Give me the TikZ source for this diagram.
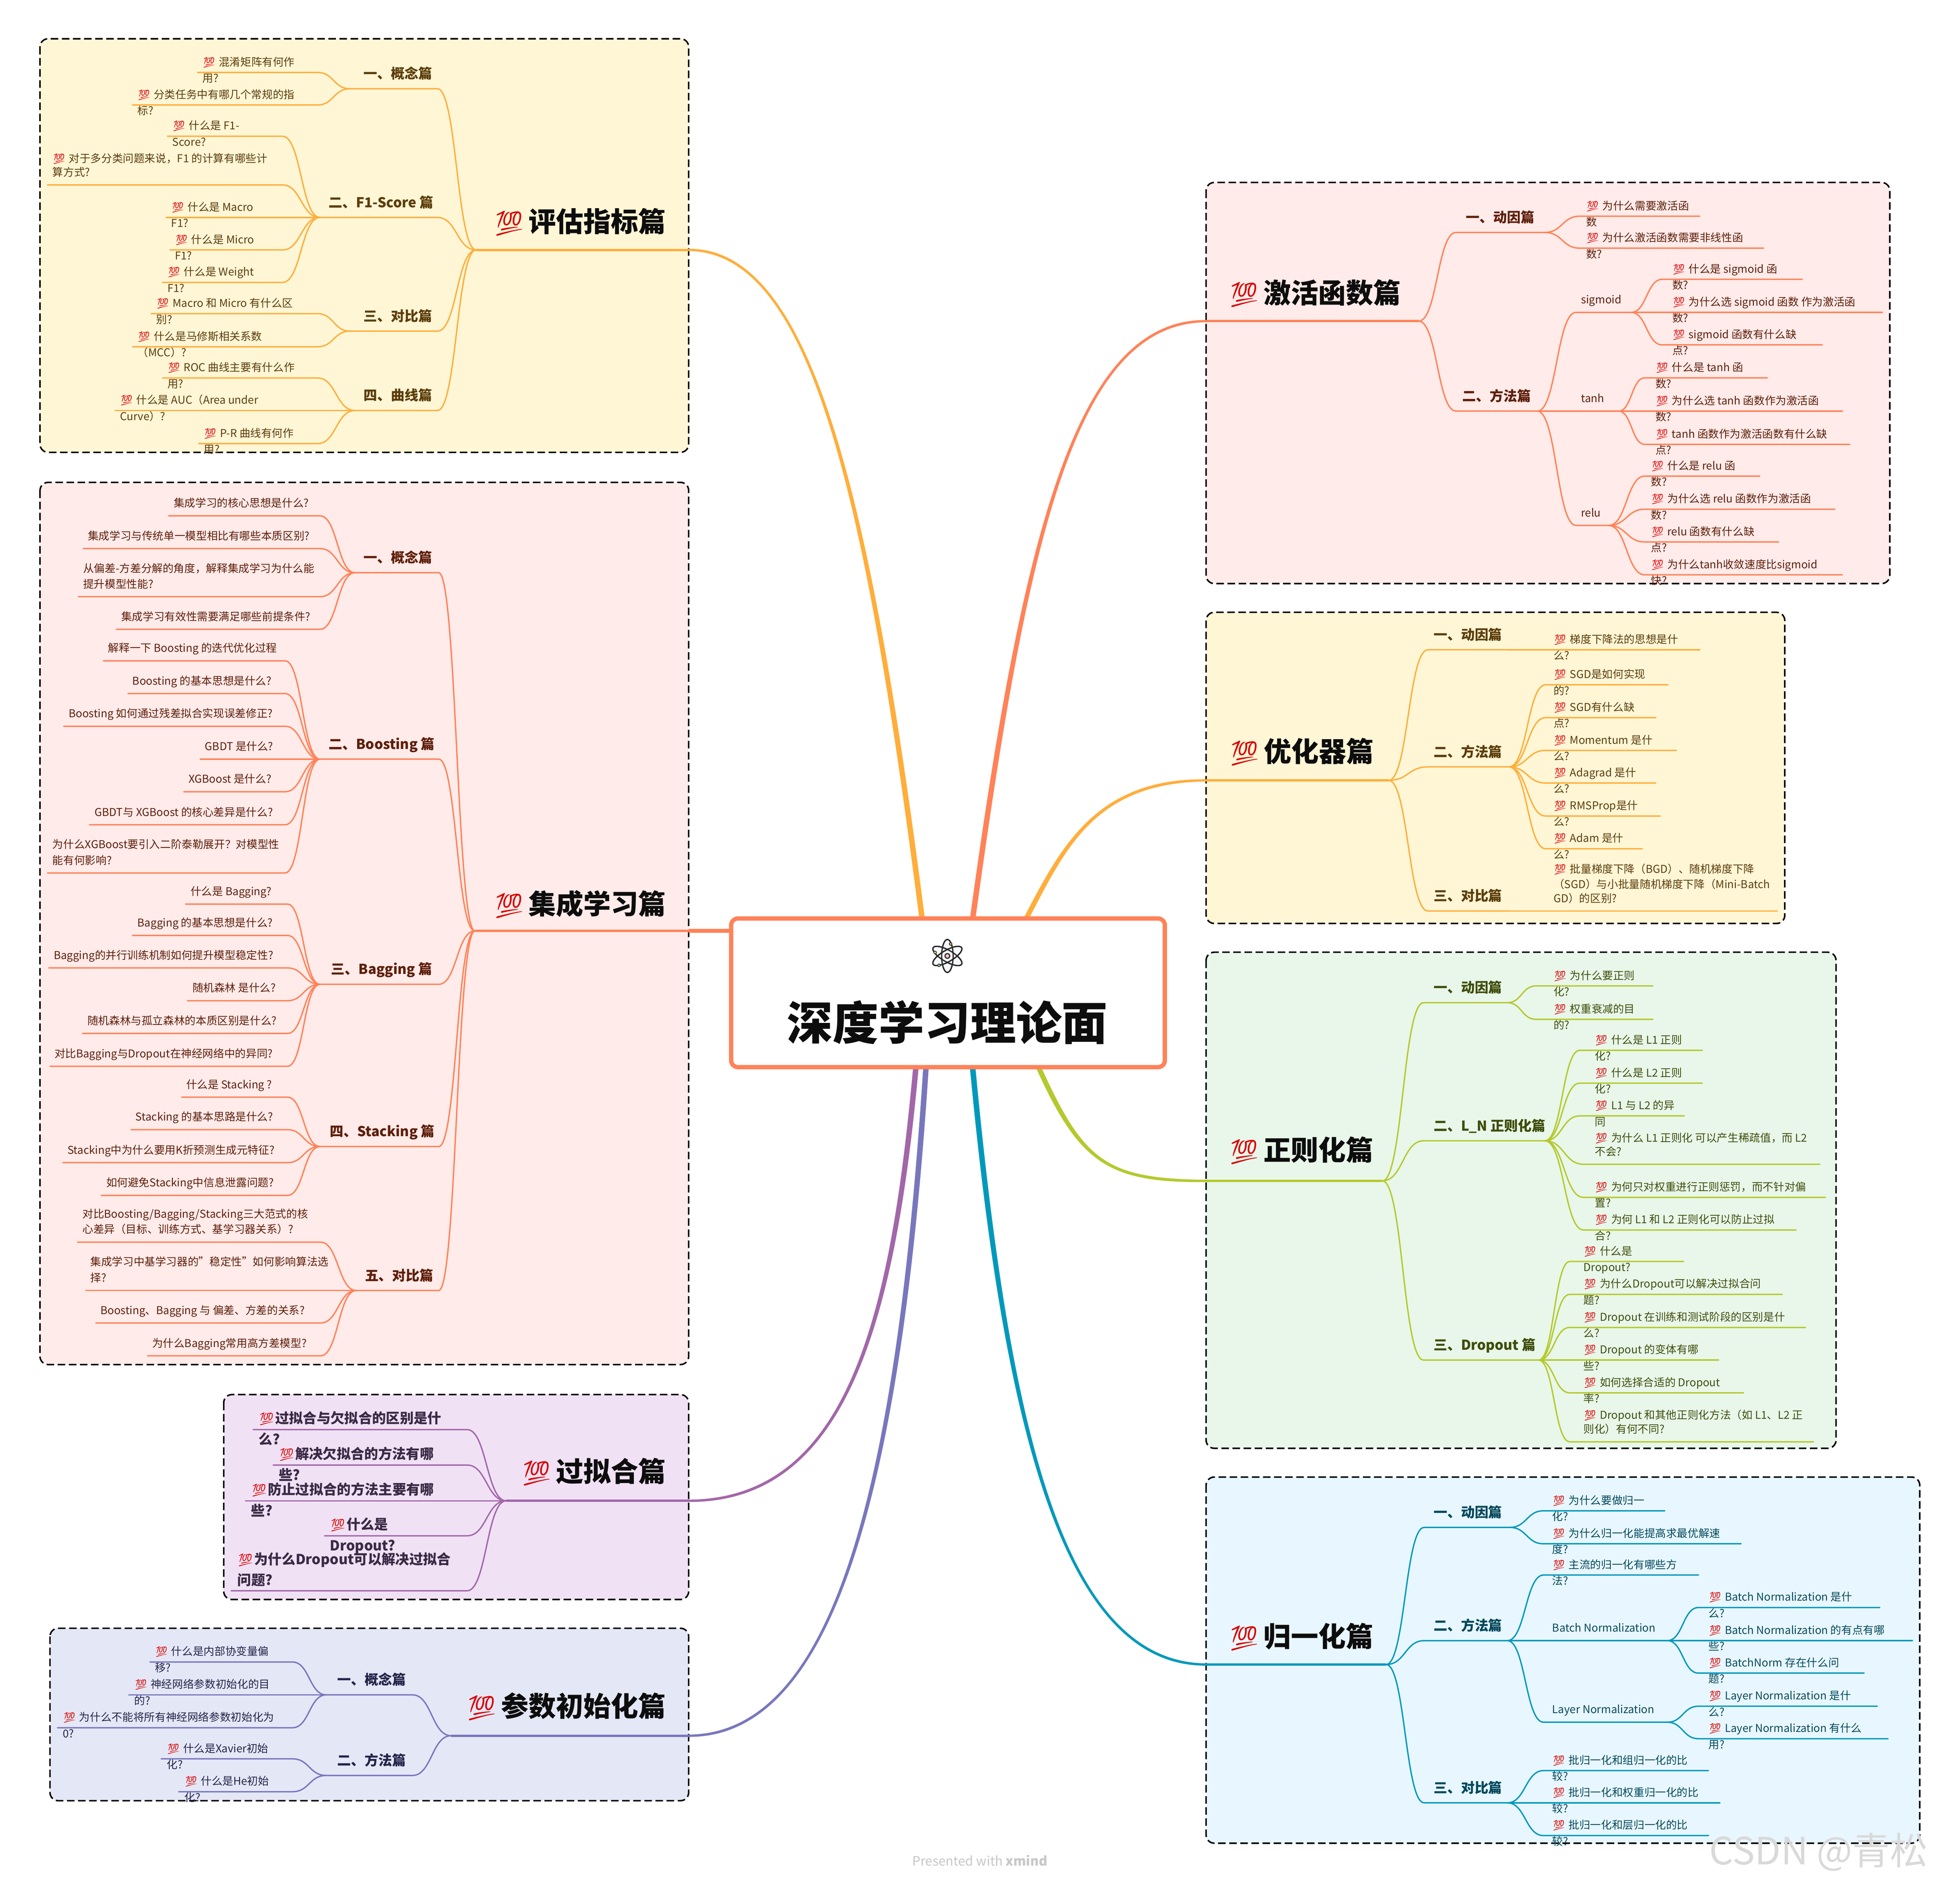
\documentclass[tikz,border=0pt]{standalone}
\usepackage{fontspec}
\usetikzlibrary{calc}
\setmainfont{Noto Sans CJK SC}
\newfontfamily\emj{Noto Emoji}
\newfontfamily\blk{Noto Sans CJK SC Black}
\definecolor{emred}{HTML}{D90000}
\colorlet{br}{black}
\colorlet{tc}{black}
\newcommand\EM[2]{\makebox[#2][l]{\fontsize{#1}{#1}\selectfont\emj\mdseries\textcolor{emred}{💯}}}
\newcommand\E{\EM{7.6pt}{11.9pt}}
\newcommand\uconv{0.9119}
\newcommand\AO{-7}
\newcommand\AW{-5.2}
\newcommand\BW{7.8}
\newcommand\jn{west}\newcommand\nr{east}\newcommand\fr{west}
\newcommand\SideL{\renewcommand\jn{west}\renewcommand\nr{east}\renewcommand\fr{west}}
\newcommand\SideR{\renewcommand\jn{east}\renewcommand\nr{west}\renewcommand\fr{east}}
% name parent near far y textx above below
\newcommand\Lf[8]{%
  \pgfmathsetmacro\cxx{(#3+#4)/2}\pgfmathsetmacro\wid{abs(#4-#3)*\uconv}%
  \node[lnode,minimum width=\wid pt] (#1) at (\cxx,#5) {};
  \if\relax\detokenize{#8}\relax
    \node[ltext,anchor=base west] (#1-a) at (#6,#5+\AO) {#7};
  \else
    \node[ltext,anchor=base west] (#1-a) at (#6,#5+\AW) {#7};
    \node[ltext,anchor=base west] (#1-b) at (#6,#5+\BW) {#8};
  \fi
  \draw[branch] let \p1=(#2.\jn),\p2=(#1.\nr),\n1={0.5*\x1+0.5*\x2} in
     (\p1) .. controls (\n1,\y1) and (\n1,\y2) .. (\p2) -- (#1.\fr);
}
% extra text line: name x baseline text
\newcommand\Tl[4]{\node[ltext,anchor=base west] (#1) at (#2,#3) {#4};}
% group: name parent near far y textx text
\newcommand\Gp[7]{%
  \pgfmathsetmacro\cxx{(#3+#4)/2}\pgfmathsetmacro\wid{abs(#4-#3)*\uconv}%
  \node[lnode,minimum width=\wid pt] (#1) at (\cxx,#5) {};
  \node[gtext,anchor=base west] (#1-a) at (#6,#5-8) {#7};
  \draw[branch] let \p1=(#2.\jn),\p2=(#1.\nr),\n1={0.5*\x1+0.5*\x2} in
     (\p1) .. controls (\n1,\y1) and (\n1,\y2) .. (\p2) -- (#1.\fr);
}
% section: name edge junction y emojix textcentery text
\newcommand\Sec[7]{%
  \pgfmathsetmacro\cxx{(#2+#3)/2}\pgfmathsetmacro\wid{abs(#2-#3)*\uconv}%
  \node[lnode,minimum width=\wid pt] (#1) at (\cxx,#4) {};
  \draw[br,line width=1.75pt] (#1.west) -- (#1.east);
  \node[stext,anchor=base west] (#1-a) at (#5,#6+7.6) {\EM{18pt}{25.5pt}#7};
}
% tapered main connector: start c1 c2 end startw endw sign
\newcommand\Main[7]{%
  \fill[br] ($(#1)+(-#5,0)$) .. controls ($(#2)+(-#5,0)$) and ($(#3)+(0,2*#7*#6)$) .. ($(#4)+(0,#7*#6)$)
     -- ($(#4)+(0,-1*#7*#6)$) .. controls ($(#3)+(0,-2*#7*#6)$) and ($(#2)+(#5,0)$) .. ($(#1)+(#5,0)$) -- cycle;
}
\tikzset{
  lnode/.style={inner sep=0pt,outer sep=0pt,minimum height=0pt},
  ltext/.style={inner sep=0pt,outer sep=0pt,font=\fontsize{7.9}{10}\selectfont,text=tc},
  gtext/.style={inner sep=0pt,outer sep=0pt,font=\fontsize{10}{12}\selectfont\bfseries,text=tc},
  stext/.style={inner sep=0pt,outer sep=0pt,font=\fontsize{20}{24}\selectfont\blk,text=black!95},
  branch/.style={draw=br,line width=1pt,line cap=round},
  panel/.style={draw=black,line width=1.1pt,dash pattern=on 5.5pt off 2.6pt,rounded corners=6pt},
}
\begin{document}
\begin{tikzpicture}[x=0.03205cm,y=-0.03205cm]
\useasboundingbox (0,0) rectangle (1568.2,1507.6);
\fill[white] (0,0) rectangle (1568.2,1507.6);
\coordinate (r1) at (738,737);
\coordinate (r2) at (778,737);
\coordinate (r3) at (820,737);
\coordinate (r4) at (587,745);
\coordinate (r5) at (733,852);
\coordinate (r6) at (741,852);
\coordinate (r7) at (778,852);
\coordinate (r8) at (830,852);

% ===== evaluation
\begin{scope}
\definecolor{br}{HTML}{FFAE3B}\definecolor{tc}{HTML}{5C3D0A}
\SideL
\filldraw[panel,fill={rgb,255:red,255;green,246;blue,214}] (32,31) rectangle (551,362);
\Sec{s1}{551}{381}{200}{395}{178}{评估指标篇}
\Gp{g11}{s1}{350}{280}{71}{291}{一、概念篇}
\Lf{l111}{g11}{254}{158}{58}{162}{\E 混淆矩阵有何作}{用?}
\Lf{l112}{g11}{254}{106}{84}{110}{\E 分类任务中有哪几个常规的指}{标?}
\Gp{g12}{s1}{350}{256}{174}{263}{二、F1-Score 篇}
\Lf{l121}{g12}{226}{134}{109}{138}{\E 什么是 F1-}{Score?}
\Lf{l122}{g12}{226}{38}{148}{42}{算方式?}{}
\Tl{l122-c}{42}{130}{\E 对于多分类问题来说，F1 的计算有哪些计}
\Lf{l123}{g12}{256}{133}{174}{137}{\E 什么是 Macro}{F1?}
\Lf{l124}{g12}{226}{136}{200}{140}{\E 什么是 Micro}{F1?}
\Lf{l125}{g12}{226}{130}{226}{134}{\E 什么是 Weight}{F1?}
\Gp{g13}{s1}{350}{280}{265}{291}{三、对比篇}
\Lf{l131}{g13}{254}{121}{251}{125}{\E Macro 和 Micro 有什么区}{别?}
\Lf{l132}{g13}{254}{106}{277.5}{110}{\E 什么是马修斯相关系数}{（MCC）?}
\Gp{g14}{s1}{350}{284}{328.5}{291}{四、曲线篇}
\Lf{l141}{g14}{254}{130}{302.5}{134}{\E ROC 曲线主要有什么作}{用?}
\Lf{l142}{g14}{284}{92}{328.5}{96}{\E 什么是 AUC（Area under}{Curve）?}
\Lf{l143}{g14}{254}{159}{355}{163}{\E P-R 曲线有何作}{用?}
\Main{r1}{695,400}{650,200}{s1.east}{2.2}{0.9}{1}
\end{scope}

% ===== ensemble
\begin{scope}
\definecolor{br}{HTML}{FF8258}\definecolor{tc}{HTML}{5E1E0A}
\SideL
\filldraw[panel,fill={rgb,255:red,255;green,235;blue,233}] (32,386) rectangle (551,1092);
\Sec{s2}{551}{380}{745}{395}{724}{集成学习篇}
\Gp{g21}{s2}{351}{284}{458.3}{291}{一、概念篇}
\Lf{l211}{g21}{256}{135}{412.8}{139}{集成学习的核心思想是什么?}{}
\Lf{l212}{g21}{256}{66.6}{439}{70.3}{集成学习与传统单一模型相比有哪些本质区别?}{}
\Lf{l213}{g21}{256}{62.8}{477.5}{66.6}{提升模型性能?}{}
\Tl{l213-c}{66.6}{458}{从偏差-方差分解的角度，解释集成学习为什么能}
\Lf{l214}{g21}{256}{93}{503.6}{97}{集成学习有效性需要满足哪些前提条件?}{}
\Gp{g22}{s2}{351}{256}{607.5}{263}{二、Boosting 篇}
\Lf{l221}{g22}{228}{82.8}{528.8}{86.5}{解释一下 Boosting 的迭代优化过程}{}
\Lf{l222}{g22}{228}{102.4}{555}{106}{Boosting 的基本思想是什么?}{}
\Lf{l223}{g22}{228}{51}{581.2}{55}{Boosting 如何通过残差拟合实现误差修正?}{}
\Lf{l224}{g22}{256}{160.3}{607.5}{164}{GBDT 是什么?}{}
\Lf{l225}{g22}{228}{147}{633.6}{151}{XGBoost 是什么?}{}
\Lf{l226}{g22}{228}{71.6}{660}{75.7}{GBDT与 XGBoost 的核心差异是什么?}{}
\Lf{l227}{g22}{228}{38}{698.6}{42}{能有何影响?}{}
\Tl{l227-c}{42}{679}{为什么XGBoost要引入二阶泰勒展开？对模型性}
\Gp{g23}{s2}{351}{256}{787.7}{265}{三、Bagging 篇}
\Lf{l231}{g23}{230}{148.4}{723.5}{152.5}{什么是 Bagging?}{}
\Lf{l232}{g23}{230}{106}{748.6}{110}{Bagging 的基本思想是什么?}{}
\Lf{l233}{g23}{230}{39}{774.6}{43}{Bagging的并行训练机制如何提升模型稳定性?}{}
\Lf{l234}{g23}{230}{150}{800.8}{154}{随机森林 是什么?}{}
\Lf{l235}{g23}{230}{66}{827}{70}{随机森林与孤立森林的本质区别是什么?}{}
\Lf{l236}{g23}{230}{40}{853.3}{43.6}{对比Bagging与Dropout在神经网络中的异同?}{}
\Gp{g24}{s2}{351}{256}{917.5}{264}{四、Stacking 篇}
\Lf{l241}{g24}{230}{145.4}{878}{149}{什么是 Stacking ?}{}
\Lf{l242}{g24}{230}{104.8}{904}{108.5}{Stacking 的基本思路是什么?}{}
\Lf{l243}{g24}{230}{50.3}{930.4}{54}{Stacking中为什么要用K折预测生成元特征?}{}
\Lf{l244}{g24}{230}{81}{956.6}{85}{如何避免Stacking中信息泄露问题?}{}
\Gp{g25}{s2}{351}{285}{1032.7}{292}{五、对比篇}
\Lf{l251}{g25}{256.4}{62}{994}{66}{心差异（目标、训练方式、基学习器关系）?}{}
\Tl{l251-c}{66}{974.5}{对比Boosting/Bagging/Stacking三大范式的核}
\Lf{l252}{g25}{285}{68.6}{1032.7}{72.3}{择?}{}
\Tl{l252-c}{72.3}{1013}{集成学习中基学习器的"稳定性"如何影响算法选}
\Lf{l253}{g25}{256.4}{76.7}{1058.7}{80.4}{Boosting、Bagging 与 偏差、方差的关系?}{}
\Lf{l254}{g25}{256.4}{118}{1085}{121.7}{为什么Bagging常用高方差模型?}{}
\draw[br,line width=2.8pt] (r4) -- (s2.east);
\end{scope}

% ===== overfitting
\begin{scope}
\definecolor{br}{HTML}{A267A9}\definecolor{tc}{HTML}{3A2A45}
\SideL
\renewcommand\E{\EM{9.2pt}{12.1pt}}
\renewcommand\AO{-4.5}\renewcommand\AW{-5}\renewcommand\BW{12}
\tikzset{ltext/.style={inner sep=0pt,outer sep=0pt,font=\fontsize{10.1}{13}\selectfont\bfseries,text=tc}}
\filldraw[panel,fill={rgb,255:red,240;green,225;blue,245}] (179,1116) rectangle (551,1280);
\Sec{s3}{551}{405}{1201}{417}{1178}{过拟合篇}
\Lf{l31}{s3}{373.7}{202.6}{1144}{207}{\E 过拟合与欠拟合的区别是什}{么?}
\Lf{l32}{s3}{373.7}{218.6}{1172.4}{223}{\E 解决欠拟合的方法有哪}{些?}
\Lf{l33}{s3}{405}{196.4}{1201}{201}{\E 防止过拟合的方法主要有哪}{些?}
\Lf{l34}{s3}{373.7}{259.7}{1229}{264}{\E 什么是}{Dropout?}
\Lf{l35}{s3}{373.7}{185}{1273}{190}{问题?}{}
\Tl{l35-c}{190}{1252}{\E 为什么Dropout可以解决过拟合}
\Main{r5}{715,1050}{680,1201}{s3.east}{2.2}{0.9}{-1}
\end{scope}

% ===== init
\begin{scope}
\definecolor{br}{HTML}{7877BD}\definecolor{tc}{HTML}{24244A}
\SideL
\filldraw[panel,fill={rgb,255:red,228;green,231;blue,246}] (40,1303) rectangle (551,1441);
\Sec{s4}{551}{361}{1389}{373}{1366}{参数初始化篇}
\Gp{g41}{s4}{330}{261}{1356.3}{270}{一、概念篇}
\Lf{l411}{g41}{234}{120}{1330}{124}{\E 什么是内部协变量偏}{移?}
\Lf{l412}{g41}{261}{103}{1356.3}{107.5}{\E 神经网络参数初始化的目}{的?}
\Lf{l413}{g41}{234}{46}{1382.6}{50.3}{\E 为什么不能将所有神经网络参数初始化为}{0?}
\Gp{g42}{s4}{330}{261}{1420.8}{270}{二、方法篇}
\Lf{l421}{g42}{234}{129}{1407.5}{133.5}{\E 什么是Xavier初始}{化?}
\Lf{l422}{g42}{234}{143}{1433.8}{147.7}{\E 什么是He初始}{化?}
\Main{r6}{720,1180}{670,1389}{s4.east}{2.2}{0.9}{-1}
\end{scope}

% ===== activation
\begin{scope}
\definecolor{br}{HTML}{FF8258}\definecolor{tc}{HTML}{5E1E0A}
\SideR
\filldraw[panel,fill={rgb,255:red,255;green,235;blue,233}] (965,146) rectangle (1512,467);
\Sec{s5}{965}{1135}{257}{983}{235}{激活函数篇}
\Gp{g51}{s5}{1165}{1236}{186}{1173}{一、动因篇}
\Lf{l511}{g51}{1264}{1360}{173}{1269}{\E 为什么需要激活函}{数}
\Lf{l512}{g51}{1264}{1411}{198.6}{1269}{\E 为什么激活函数需要非线性函}{数?}
\Gp{g52}{s5}{1165}{1230}{329}{1170}{二、方法篇}
\Lf{m1}{g52}{1261}{1305}{250}{1265}{sigmoid}{}
\Lf{l521}{m1}{1330}{1442}{223.5}{1338}{\E 什么是 sigmoid 函}{数?}
\Lf{l522}{m1}{1305}{1506}{250}{1338}{\E 为什么选 sigmoid 函数 作为激活函}{数?}
\Lf{l523}{m1}{1330}{1458}{276}{1338}{\E sigmoid 函数有什么缺}{点?}
\Lf{m2}{g52}{1230}{1295}{329}{1265}{tanh}{}
\Lf{l531}{m2}{1316}{1414}{302.4}{1324.6}{\E 什么是 tanh 函}{数?}
\Lf{l532}{m2}{1295}{1474}{329}{1324.6}{\E 为什么选 tanh 函数作为激活函}{数?}
\Lf{l533}{m2}{1316}{1480}{355.6}{1324.6}{\E tanh 函数作为激活函数有什么缺}{点?}
\Lf{m3}{g52}{1261}{1287}{420.5}{1265}{relu}{}
\Lf{l541}{m3}{1316}{1408}{381}{1321}{\E 什么是 relu 函}{数?}
\Lf{l542}{m3}{1316}{1468}{407.5}{1321}{\E 为什么选 relu 函数作为激活函}{数?}
\Lf{l543}{m3}{1316}{1423}{433.7}{1321}{\E relu 函数有什么缺}{点?}
\Lf{l544}{m3}{1316}{1474}{460}{1321}{\E 为什么tanh收敛速度比sigmoid}{快?}
\Main{r2}{820,430}{860,257}{s5.west}{2.2}{0.9}{-1}
\end{scope}

% ===== optimizer
\begin{scope}
\definecolor{br}{HTML}{FFAE3B}\definecolor{tc}{HTML}{5C3D0A}
\SideR
\filldraw[panel,fill={rgb,255:red,255;green,246;blue,214}] (965,490) rectangle (1428,739);
\Sec{s6}{965}{1111}{624.5}{983.5}{602}{优化器篇}
\Gp{g61}{s6}{1142.5}{1207.4}{520}{1147}{一、动因篇}
\Lf{l611}{g61}{1207.4}{1360}{520}{1243}{\E 梯度下降法的思想是什}{么?}
\Gp{g62}{s6}{1142.5}{1207.4}{613.7}{1147}{二、方法篇}
\Lf{l621}{g62}{1236.7}{1334.5}{548}{1243}{\E SGD是如何实现}{的?}
\Lf{l622}{g62}{1236.7}{1325}{574.3}{1243}{\E SGD有什么缺}{点?}
\Lf{l623}{g62}{1236.7}{1341.3}{600.5}{1243}{\E Momentum 是什}{么?}
\Lf{l624}{g62}{1236.7}{1324.7}{626.6}{1243}{\E Adagrad 是什}{么?}
\Lf{l625}{g62}{1236.7}{1328.4}{653}{1243}{\E RMSProp是什}{么?}
\Lf{l626}{g62}{1236.7}{1314}{679.2}{1243}{\E Adam 是什}{么?}
\Gp{g63}{s6}{1142.5}{1207.4}{729}{1147}{三、对比篇}
\Lf{l631}{g63}{1207.4}{1422}{729}{1243}{GD）的区别?}{}
\Tl{l631-c}{1243}{711}{（SGD）与小批量随机梯度下降（Mini-Batch}
\Tl{l631-d}{1243}{698.6}{\E 批量梯度下降（BGD）、随机梯度下降}
\Main{r3}{850,680}{875,624.5}{s6.west}{2.2}{0.9}{-1}
\end{scope}

% ===== regularisation
\begin{scope}
\definecolor{br}{HTML}{B5C92E}\definecolor{tc}{HTML}{3F4D0A}
\SideR
\filldraw[panel,fill={rgb,255:red,232;green,247;blue,234}] (965,762) rectangle (1469,1159);
\Sec{s7}{965}{1106}{945}{983}{921}{正则化篇}
\Gp{g71}{s7}{1139}{1206}{802.4}{1147}{一、动因篇}
\Lf{l711}{g71}{1229}{1322.5}{789}{1243}{\E 为什么要正则}{化?}
\Lf{l712}{g71}{1229}{1322.5}{815.7}{1243}{\E 权重衰减的目}{的?}
\Gp{g72}{s7}{1139}{1236}{912.9}{1147}{二、L\_N 正则化篇}
\Lf{l721}{g72}{1264}{1362}{840.5}{1276}{\E 什么是 L1 正则}{化?}
\Lf{l722}{g72}{1264}{1362}{866.8}{1276}{\E 什么是 L2 正则}{化?}
\Lf{l723}{g72}{1264}{1347.5}{893}{1276}{\E L1 与 L2 的异}{同}
\Lf{l724}{g72}{1267}{1456}{931.7}{1276}{不会?}{}
\Tl{l724-c}{1276}{913.9}{\E 为什么 L1 正则化 可以产生稀疏值，而 L2}
\Lf{l725}{g72}{1267}{1460.5}{958.2}{1276}{\E 为何只对权重进行正则惩罚，而不针对偏}{置?}
\Lf{l726}{g72}{1267}{1437}{984.3}{1276}{\E 为何 L1 和 L2 正则化可以防止过拟}{合?}
\Gp{g73}{s7}{1139}{1231}{1088.4}{1147}{三、Dropout 篇}
\Lf{l731}{g73}{1256}{1347}{1009.5}{1267}{\E 什么是}{Dropout?}
\Lf{l732}{g73}{1256}{1426}{1035.8}{1267}{\E 为什么Dropout可以解决过拟合问}{题?}
\Lf{l733}{g73}{1256}{1444.6}{1062.3}{1267}{\E Dropout 在训练和测试阶段的区别是什}{么?}
\Lf{l734}{g73}{1231}{1375}{1088.4}{1267}{\E Dropout 的变体有哪}{些?}
\Lf{l735}{g73}{1256}{1395}{1114.6}{1267}{\E 如何选择合适的 Dropout}{率?}
\Lf{l736}{g73}{1256}{1451}{1153.8}{1267}{则化）有何不同?}{}
\Tl{l736-c}{1267}{1135.5}{\E Dropout 和其他正则化方法（如 L1、L2 正}
\Main{r8}{865,930}{885,945}{s7.west}{2.2}{0.9}{1}
\end{scope}

% ===== normalisation
\begin{scope}
\definecolor{br}{HTML}{0099BB}\definecolor{tc}{HTML}{00485C}
\SideR
\filldraw[panel,fill={rgb,255:red,232;green,247;blue,255}] (965,1182) rectangle (1536,1475);
\Sec{s8}{965}{1109}{1332}{983}{1310}{归一化篇}
\Gp{g81}{s8}{1139.5}{1208}{1222.3}{1147}{一、动因篇}
\Lf{l811}{g81}{1235}{1332}{1209}{1242}{\E 为什么要做归一}{化?}
\Lf{l812}{g81}{1235}{1393}{1235.4}{1242}{\E 为什么归一化能提高求最优解速}{度?}
\Gp{g82}{s8}{1139.5}{1206}{1312.9}{1147}{二、方法篇}
\Lf{l821}{g82}{1235}{1359}{1260.4}{1242}{\E 主流的归一化有哪些方}{法?}
\Lf{m81}{g82}{1206}{1334}{1312.9}{1242}{Batch Normalization}{}
\Lf{l831}{m81}{1359}{1504}{1286.4}{1367}{\E Batch Normalization 是什}{么?}
\Lf{l832}{m81}{1334}{1530}{1312.9}{1367}{\E Batch Normalization 的有点有哪}{些?}
\Lf{l833}{m81}{1359}{1491.5}{1338.9}{1367}{\E BatchNorm 存在什么问}{题?}
\Lf{m82}{g82}{1235}{1334}{1378.2}{1242}{Layer Normalization}{}
\Lf{l841}{m82}{1359}{1502}{1365.4}{1367}{\E Layer Normalization 是什}{么?}
\Lf{l842}{m82}{1359}{1510.6}{1391.4}{1367}{\E Layer Normalization 有什么}{用?}
\Gp{g83}{s8}{1139.5}{1206}{1442.7}{1147}{三、对比篇}
\Lf{l851}{g83}{1235}{1367}{1416.9}{1242}{\E 批归一化和组归一化的比}{较?}
\Lf{l852}{g83}{1206}{1376}{1442.7}{1242}{\E 批归一化和权重归一化的比}{较?}
\Lf{l853}{g83}{1235}{1367}{1468.9}{1242}{\E 批归一化和层归一化的比}{较?}
\Main{r7}{805,1140}{850,1332}{s8.west}{2.2}{0.9}{1}
\end{scope}

% ===== root
\definecolor{rootbr}{HTML}{FF8258}
\node[draw=rootbr,fill=white,line width=3.1pt,rounded corners=5pt,minimum width=316.4pt,minimum height=108.5pt,inner sep=0pt] (root) at (758.5,794.5) {};
\node[inner sep=0pt,font=\fontsize{33.4}{36}\selectfont\blk,text=black!95] (rootlabel) at (758,818) {深度学习理论面};
\begin{scope}[shift={(758,765)}]
  \foreach \ang in {0,60,120}{
    \draw[rotate=\ang,draw=black!85,fill={rgb,255:red,246;green,248;blue,251},line width=0.9pt] (0,0) ellipse (4.6 and 13.2);
  }
  \foreach \ang in {0,60,120}{
    \draw[rotate=\ang,draw=black!85,line width=0.9pt] (0,0) ellipse (4.6 and 13.2);
  }
  \filldraw[draw=black!85,fill={rgb,255:red,255;green,196;blue,196},line width=0.8pt] (0,0) circle (1.9);
  \filldraw[draw=black!85,fill={rgb,255:red,255;green,170;blue,90},line width=0.5pt] (2.6,-9.6) circle (1.1);
  \filldraw[draw=black!85,fill={rgb,255:red,255;green,225;blue,90},line width=0.5pt] (-9.8,-2.8) circle (1.1);
  \filldraw[draw=black!85,fill={rgb,255:red,140;green,230;blue,130},line width=0.5pt] (-6.7,7.5) circle (1.1);
\end{scope}

% ===== footer
\node[inner sep=0pt,font=\fontsize{9.4}{10}\selectfont,text=black!22] (footer) at (784,1489) {Presented with \textbf{xmind}};
\node[inner sep=0pt,font=\fontsize{27.5}{30}\selectfont,text=black!15] (mark) at (1455,1482) {CSDN @青松};
\end{tikzpicture}
\end{document}
